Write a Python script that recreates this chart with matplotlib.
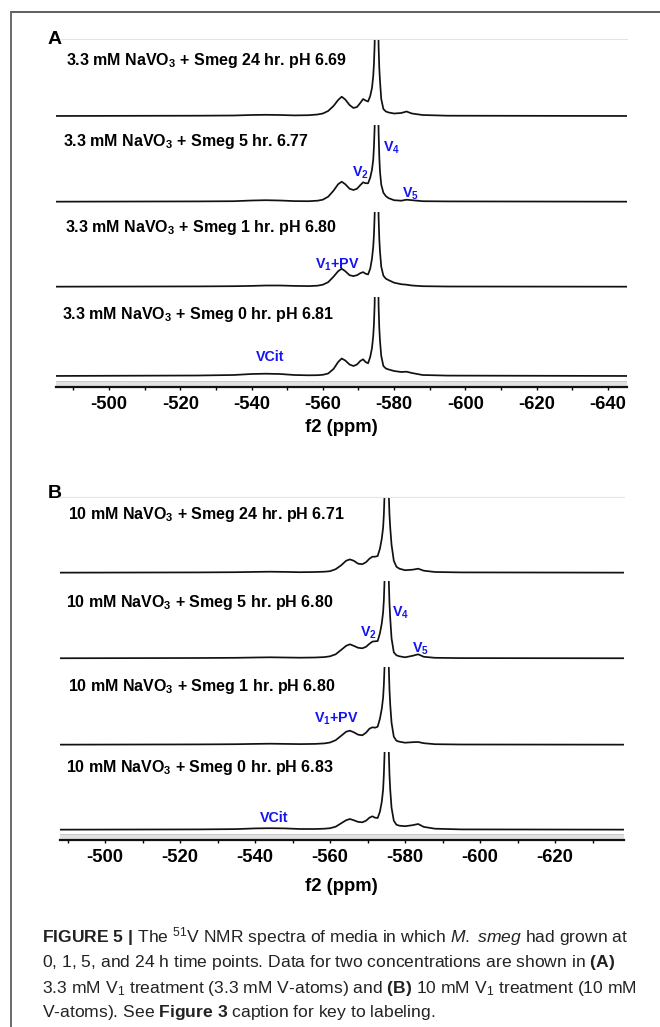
import matplotlib
matplotlib.use("Agg")
import matplotlib.pyplot as plt
from matplotlib.patches import Rectangle
from matplotlib.lines import Line2D

plt.rcParams['font.family'] = ['Liberation Sans', 'DejaVu Sans']
plt.rcParams['mathtext.fontset'] = 'custom'
plt.rcParams['mathtext.rm'] = 'Liberation Sans'
plt.rcParams['mathtext.bf'] = 'Liberation Sans:bold'
plt.rcParams['mathtext.it'] = 'Liberation Sans:italic'
plt.rcParams['mathtext.default'] = 'regular'
plt.rcParams['axes.unicode_minus'] = False

# ---------------- data ----------------
shift_ppm = [-480, -525, -535, -540, -544, -548, -552, -556, -558.5, -560, -561.5, -563,
             -564.3, -565.3, -566.3, -567.5, -568.6, -569.6, -570.5, -571.3, -572.0, -572.7,
             -573.3, -573.8, -574.15, -574.35, -574.55, -574.7, -574.9, -575.1, -575.3, -575.5,
             -575.65, -575.85, -576.05, -576.4, -577.0, -577.7, -578.5, -580.0, -582.0, -583.5,
             -585.0, -588.0, -595.0, -650]

# Panel A (3.3 mM), intensities above baseline (arbitrary units), top spectrum first
A_24h = [0, 0.3, 0.5, 1.0, 1.2, 1.0, 0.6, 0.8, 1.5, 2.5, 5, 10,
         16, 19.3, 16.5, 11, 8, 9, 13, 17, 15.5, 14.5,
         20, 28, 40, 52, 72, 120, 400, 700, 400, 120,
         70, 48, 35, 17, 7, 4.5, 3.5, 2.5, 3, 4.5,
         2.5, 1, 0.3, 0]
A_5h = [0, 0.3, 0.5, 1.2, 1.5, 1.2, 0.6, 0.5, 1, 2, 5, 11,
        17.5, 20, 17.5, 13, 11.7, 13, 16.5, 19.4, 18.5, 18.4,
        24, 32, 42, 55, 75, 120, 400, 700, 400, 120,
        70, 45, 30, 17, 9, 5.5, 3.5, 1.5, 1, 2,
        1.5, 0.5, 0.3, 0]
A_1h = [0, 0.3, 0.5, 0.8, 1.2, 1.2, 0.8, 0.6, 1, 2, 4.5, 10,
        15.5, 18, 15.5, 11.5, 10.6, 11.5, 13.5, 14.6, 13, 12.3,
        18, 28, 40, 52, 72, 120, 400, 700, 400, 120,
        70, 48, 35, 20, 11, 8, 6.5, 4, 2.5, 2,
        1.2, 0.5, 0.2, 0]
A_0h = [0, 0.5, 1, 2, 2.3, 2, 1, 0.7, 0.8, 1.2, 2.5, 7,
        14, 17.5, 15.5, 11.5, 10, 11.5, 15, 16.7, 14, 12.7,
        19, 28, 40, 52, 72, 120, 400, 700, 400, 120,
        70, 48, 35, 20, 10, 7.5, 6.5, 5, 4, 4.3,
        3, 1, 0.4, 0]

# Panel B (10 mM)
B_24h = [0, 0.3, 0.5, 0.8, 1, 0.8, 0.5, 0.7, 1, 1.5, 3.5, 7.5,
         12, 13.3, 12, 9, 8.5, 10.5, 14, 16, 16, 16.7,
         24, 34, 45, 58, 80, 150, 400, 700, 400, 150,
         80, 58, 45, 28, 12, 6, 4, 2.5, 3, 4,
         2, 0.7, 0.3, 0]
B_5h = [0, 0.3, 0.5, 0.8, 1, 0.8, 0.6, 0.8, 1.2, 2, 4, 8.5,
        12.5, 14, 12.5, 10.5, 10, 11.5, 14.5, 16.7, 17, 17.3,
        25, 35, 46, 58, 80, 150, 400, 700, 400, 150,
        80, 55, 40, 20, 6, 3, 2, 1, 2.5, 4,
        1.5, 0.5, 0.2, 0]
B_1h = [0, 0.3, 0.5, 0.8, 1, 0.8, 0.6, 0.8, 1.3, 2.2, 4.5, 9,
        13, 14, 12.5, 10, 9.4, 12, 16, 17.4, 17, 18,
        26, 36, 47, 60, 80, 150, 400, 700, 400, 150,
        80, 55, 40, 22, 8, 4, 3, 2, 2.5, 2.7,
        1.5, 0.5, 0.2, 0]
B_0h = [0, 0.3, 0.6, 1.3, 1.5, 1.3, 0.7, 0.7, 1, 1.5, 3, 6.5,
        9.5, 10.7, 9.5, 7.8, 7.4, 9, 12, 13.4, 12, 11.7,
        18, 28, 40, 55, 78, 150, 400, 700, 400, 150,
        80, 55, 40, 22, 9, 5, 4, 3.5, 4.5, 5.7,
        2.8, 1, 0.3, 0]

A_labels = [r"3.3 mM NaVO$_3$ + Smeg 24 hr. pH 6.69",
            r"3.3 mM NaVO$_3$ + Smeg 5 hr. 6.77",
            r"3.3 mM NaVO$_3$ + Smeg 1 hr. pH 6.80",
            r"3.3 mM NaVO$_3$ + Smeg 0 hr. pH 6.81"]
B_labels = [r"10 mM NaVO$_3$ + Smeg 24 hr. pH 6.71",
            r"10 mM NaVO$_3$ + Smeg 5 hr. pH 6.80",
            r"10 mM NaVO$_3$ + Smeg 1 hr. pH 6.80",
            r"10 mM NaVO$_3$ + Smeg 0 hr. pH 6.83"]

A_major_ticks = [-500, -520, -540, -560, -580, -600, -620, -640]
A_minor_ticks = [-490, -510, -530, -550, -570, -590, -610, -630]
B_major_ticks = [-500, -520, -540, -560, -580, -600, -620]
B_minor_ticks = [-490, -510, -530, -550, -570, -590, -610, -630]

peak_names = [r"V$_4$", r"V$_2$", r"V$_5$", r"V$_1$+PV", "VCit"]

caption_lines = [
    r"$\mathbf{FIGURE\ 5\ |}$ The $^{51}$V NMR spectra of media in which $\mathit{M.}$ $\mathit{smeg}$ had grown at",
    r"0, 1, 5, and 24 h time points. Data for two concentrations are shown in $\mathbf{(A)}$",
    r"3.3 mM V$_1$ treatment (3.3 mM V-atoms) and $\mathbf{(B)}$ 10 mM V$_1$ treatment (10 mM",
    r"V-atoms). See $\mathbf{Figure\ 3}$ caption for key to labeling.",
]

# ---------------- figure ----------------
W, H = 660, 1027
fig = plt.figure(figsize=(W / 100, H / 100), dpi=100)
fig.patch.set_facecolor('white')


def fx(x):
    return x / W


def fy(y):
    return 1 - y / H


# border (open at right/bottom edge of the image)
fig.add_artist(Line2D([fx(11), fx(660)], [fy(12), fy(12)], color='#5e5e5e', lw=1.4))
fig.add_artist(Line2D([fx(11), fx(11)], [fy(12), fy(1027)], color='#6a6a6a', lw=1.4))

BLUE = '#1414f0'


def draw_panel(left, right, tops, axis_y, baselines, xlim, traces, labels, label_pos,
               majors, minors, letter, letter_pos, annots, xlabel_y):
    edges = list(tops) + [axis_y]
    axes = []
    for k, tr in enumerate(traces):
        top, bottom = edges[k], edges[k + 1]
        ax = fig.add_axes([fx(left), fy(bottom), (right - left) / W, (bottom - top) / H])
        ax.plot(shift_ppm, tr, color='#111111', lw=1.25, solid_joinstyle='round')
        ax.set_xlim(*xlim)
        ax.set_ylim(-(bottom - baselines[k]), baselines[k] - top)
        for s in ['left', 'right', 'top', 'bottom']:
            ax.spines[s].set_visible(False)
        ax.set_yticks([])
        ax.set_xticks([])
        ax.patch.set_alpha(0)
        axes.append(ax)
    # faint top line
    axes[0].spines['top'].set_visible(True)
    axes[0].spines['top'].set_color('#e4e4e4')
    axes[0].spines['top'].set_linewidth(0.8)
    # bottom axis
    axb = axes[-1]
    hb = edges[-1] - edges[-2]
    axb.add_patch(Rectangle((0, 0), 1, 6.0 / hb, transform=axb.transAxes,
                            facecolor='#e2e2e2', edgecolor='none', zorder=0))
    axb.add_line(Line2D([0, 1], [6.0 / hb, 6.0 / hb], transform=axb.transAxes,
                        color='#c4c4c4', lw=0.6))
    axb.spines['bottom'].set_visible(True)
    axb.spines['bottom'].set_linewidth(1.6)
    axb.spines['bottom'].set_color('#111111')
    axb.set_xticks(majors)
    axb.set_xticks(minors, minor=True)
    axb.set_xticklabels([str(t) for t in majors])
    axb.tick_params(axis='x', which='major', direction='out', length=2.2, width=1.0,
                    pad=4.5, labelsize=13.3)
    axb.tick_params(axis='x', which='minor', direction='out', length=2.0, width=1.0)
    for lab in axb.get_xticklabels():
        lab.set_fontweight('bold')
    fig.text(fx(341), fy(xlabel_y), "f2 (ppm)", fontsize=13.3, fontweight='bold',
             ha='center', va='center')
    # spectrum labels
    for lab, (x, y) in zip(labels, label_pos):
        fig.text(fx(x), fy(y), lab, fontsize=11.5, fontweight='bold', ha='left',
                 va='baseline', color='black')
    # peak annotations
    for txt, (x, y) in annots:
        fig.text(fx(x), fy(y), txt, fontsize=10.3, fontweight='bold', color=BLUE,
                 ha='left', va='baseline')
    fig.text(fx(letter_pos[0]), fy(letter_pos[1]), letter, fontsize=14,
             fontweight='bold', ha='left', va='baseline')


draw_panel(56, 626.7, [39, 125, 211.7, 297], 387, [116, 201.7, 286.7, 376],
           (-485.1, -645.3), [A_24h, A_5h, A_1h, A_0h], A_labels,
           [(66, 64.5), (63, 146.3), (65, 231.7), (62, 319.3)],
           A_major_ticks, A_minor_ticks, "A", (48, 44),
           [(peak_names[0], (382.7, 151.7)), (peak_names[1], (352.5, 176.7)),
            (peak_names[2], (401.7, 197.7)), (peak_names[3], (315, 268.3)),
            (peak_names[4], (255.5, 361))],
           427)

draw_panel(60, 623.7, [496.7, 581, 666.7, 752.3], 840, [572.7, 658.3, 744.7, 829.7],
           (-488, -638.3), [B_24h, B_5h, B_1h, B_0h], B_labels,
           [(68, 518.5), (66.5, 607), (68, 691.3), (66, 772)],
           B_major_ticks, B_minor_ticks, "B", (48, 498.3),
           [(peak_names[0], (391.7, 616.3)), (peak_names[1], (360, 637)),
            (peak_names[2], (411.7, 653)), (peak_names[3], (314, 723)),
            (peak_names[4], (259.7, 821.7))],
           886.7)

# caption
cap_y = [937, 962.5, 988, 1013]
for line, y in zip(caption_lines, cap_y):
    fig.text(fx(42), fy(y), line, fontsize=12.6, color='#222222', ha='left', va='center')

fig.savefig("out.png", dpi=100, facecolor='white')
